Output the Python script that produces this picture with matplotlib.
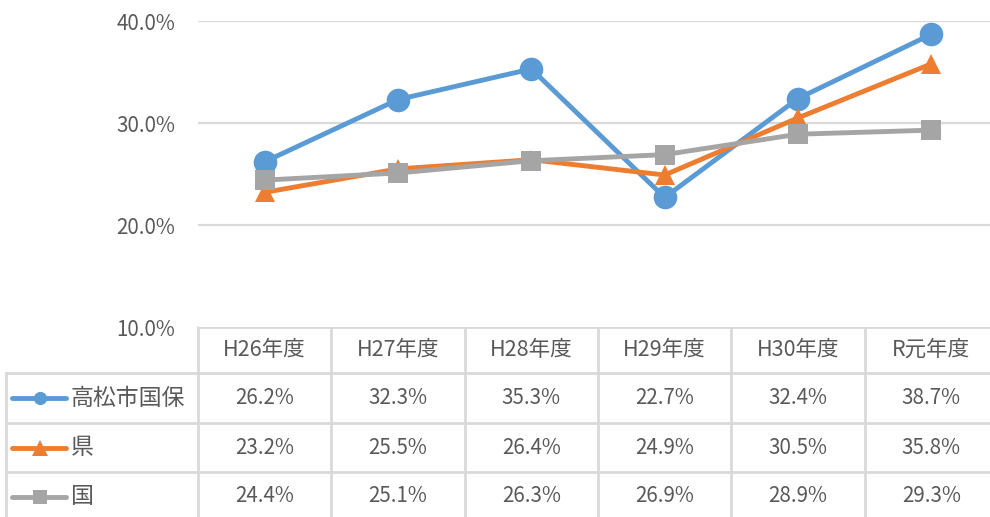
import matplotlib.pyplot as plt
import matplotlib.transforms as mtransforms
from matplotlib.lines import Line2D

plt.rcParams['font.family'] = ['Noto Sans CJK JP', 'DejaVu Sans']

categories = ['H26年度', 'H27年度', 'H28年度', 'H29年度', 'H30年度', 'R元年度']
series_names = ['高松市国保', '県', '国']
takamatsu = [26.2, 32.3, 35.3, 22.7, 32.4, 38.7]
ken = [23.2, 25.5, 26.4, 24.9, 30.5, 35.8]
kuni = [24.4, 25.1, 26.3, 26.9, 28.9, 29.3]
yticks = [10, 20, 30, 40]

colors = ['#5B9BD5', '#ED7D31', '#A5A5A5']
markers = ['o', '^', 's']
msizes = [17, 15, 14]
leg_msizes = [9.5, 11, 9.5]
values = [takamatsu, ken, kuni]
grid_c = '#D9D9D9'
text_c = '#595959'

W, H = 990, 517
fig = plt.figure(figsize=(W / 100, H / 100), dpi=100)

# pixel layout of the plot area
px_left, px_right, px_top, px_bottom = 198, 998, 21, 327
ax = fig.add_axes([px_left / W, 1 - px_bottom / H,
                   (px_right - px_left) / W, (px_bottom - px_top) / H])
ax.set_xlim(-0.5, len(categories) - 0.5)
ax.set_ylim(10, 40)
for s in ax.spines.values():
    s.set_visible(False)
ax.set_xticks([])
ax.set_yticks(yticks)
ax.set_yticklabels([f'{v:.1f}%' for v in yticks])
ax.tick_params(axis='y', length=0, pad=16.5, labelsize=14.8, labelcolor=text_c)
for v in yticks[1:]:
    ax.axhline(v, color=grid_c, lw=1.6, zorder=0)

x = list(range(len(categories)))
for vals, c, m, ms in zip(values, colors, markers, msizes):
    ax.plot(x, vals, color=c, lw=3.5, marker=m, markersize=ms,
            markeredgewidth=0, clip_on=False, solid_capstyle='round')

# overlay in pixel units for the data table
ov = fig.add_axes([0, 0, 1, 1], zorder=-1)
ov.set_xlim(0, W)
ov.set_ylim(H, 0)
ov.axis('off')
bt = mtransforms.blended_transform_factory(ax.transData, ov.transData)

row_edges = [327, 373, 423, 472, 521]
lw_tab = 2.0
# horizontal lines
ov.plot([px_left, px_right], [row_edges[0]] * 2, color=grid_c, lw=lw_tab)
for y in row_edges[1:]:
    ov.plot([6, px_right], [y, y], color=grid_c, lw=lw_tab)
# vertical lines
ov.plot([6, 6], [row_edges[1], row_edges[-1]], color=grid_c, lw=lw_tab)
for i in range(len(categories) + 1):
    ov.plot([i - 0.5, i - 0.5], [row_edges[0], row_edges[-1]],
            color=grid_c, lw=lw_tab, transform=bt)

hy = (row_edges[0] + row_edges[1]) / 2
for i, cat in enumerate(categories):
    ov.text(i, hy, cat, transform=bt, ha='center', va='center',
            fontsize=15.5, color=text_c)

for r, (name, vals, c, m, ms) in enumerate(zip(series_names, values, colors, markers, leg_msizes)):
    cy = (row_edges[r + 1] + row_edges[r + 2]) / 2
    ov.add_line(Line2D([12, 66], [cy, cy], color=c, lw=3.5, solid_capstyle='round'))
    ov.add_line(Line2D([40], [cy], color=c, marker=m, markersize=ms,
                       markeredgewidth=0))
    ov.text(71, cy, name, ha='left', va='center', fontsize=16.5, color=text_c)
    for i, v in enumerate(vals):
        ov.text(i, cy, f'{v:.1f}%', transform=bt, ha='center', va='center',
                fontsize=14.8, color=text_c)

fig.savefig('out.png', dpi=100)
